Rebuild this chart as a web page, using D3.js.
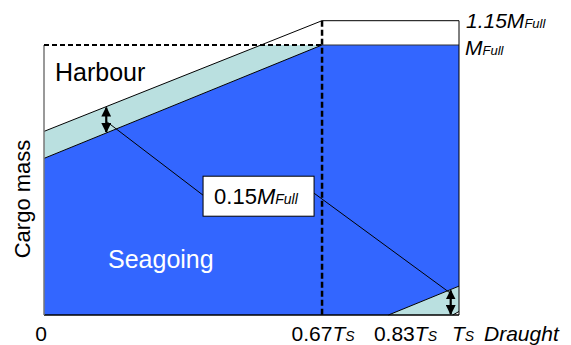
<!DOCTYPE html>
<html><head><meta charset="utf-8">
<script src="https://cdn.jsdelivr.net/npm/d3@7"></script>
<style>body{margin:0;background:#fff}svg{display:block}text{font-family:"Liberation Sans",Arial,sans-serif;fill:#000}</style>
</head><body>
<script>
// ---- data (draught in T_S units, cargo mass in M_Full units, schematic) ----
const draughtTicks = [0, 0.67, 0.83, 1];
const draughtTickNumbers = ["0", "0.67", "0.83", ""];
const draughtTickHasTs = [false, true, true, true];
const massFull = 1.0;
const massTopDrawn = 1.09;            // line labelled 1.15 M_Full
const harbourLine = [[0, 0.68], [0.67, 1.09]];
const seagoingLine = [[0, 0.58], [0.67, 1.0]];
const rightUpperLine = [[0.83, 0], [1, 0.107]];
const rightLowerLine = [[0.985, 0], [1, 0.013]];
const arrowDraughts = [0.15, 0.98];
const boxCenter = [0.517, 0.44];
const leaderEnds = [[0.152, 0.715], [0.98, 0.08]];

const W = 571, H = 345;
const x = d3.scaleLinear().domain([0, 1]).range([44, 459]);
const y = d3.scaleLinear().domain([0, 1]).range([315, 45]);
const BLUE = "#3366ff", CYAN = "#bae0e0";

const svg = d3.select("body").append("svg").attr("width", W).attr("height", H);
const defs = svg.append("defs");
defs.append("marker").attr("id", "ah").attr("viewBox", "0 0 10 10").attr("refX", 9).attr("refY", 5)
  .attr("markerWidth", 4.5).attr("markerHeight", 4.5).attr("orient", "auto-start-reverse")
  .attr("markerUnits", "strokeWidth")
  .append("path").attr("d", "M0,0L10,5L0,10Z").attr("fill", "#000");

const interp = (line, t) => {
  const [[x0, y0], [x1, y1]] = line;
  return y0 + (y1 - y0) * (t - x0) / (x1 - x0);
};
const inverse = (line, v) => {
  const [[x0, y0], [x1, y1]] = line;
  return x0 + (x1 - x0) * (v - y0) / (y1 - y0);
};
const pts = arr => arr.map(([a, b]) => [x(a), y(b)]);
const poly = d3.line();

// cyan band left (clipped at M_Full)
const hCross = inverse(harbourLine, massFull);
svg.append("path").attr("d", poly(pts([harbourLine[0], [hCross, massFull], seagoingLine[1], seagoingLine[0]])) + "Z")
  .attr("fill", CYAN);
// cyan band right
svg.append("path").attr("d", poly(pts([rightUpperLine[0], rightUpperLine[1], rightLowerLine[1], rightLowerLine[0]])) + "Z")
  .attr("fill", CYAN);
// seagoing (blue) region
svg.append("path").attr("d", poly(pts([[0, 0], seagoingLine[0], seagoingLine[1], [1, massFull], rightUpperLine[1], rightUpperLine[0]])) + "Z")
  .attr("fill", BLUE);

// outlines
const seg = (a, b, opts = {}) => svg.append("line")
  .attr("x1", x(a[0])).attr("y1", y(a[1])).attr("x2", x(b[0])).attr("y2", y(b[1]))
  .attr("stroke", opts.color || "#000").attr("stroke-width", opts.w || 1)
  .attr("stroke-dasharray", opts.dash || null);

seg(harbourLine[0], harbourLine[1]);
seg(seagoingLine[0], seagoingLine[1]);
seg(rightUpperLine[0], rightUpperLine[1]);
seg(rightLowerLine[0], rightLowerLine[1]);
seg([0.67, massTopDrawn], [1, massTopDrawn]);
seg([0.67, massFull], [1, massFull], {color: "#333"});
seg([1, massTopDrawn], [1, 0]);
seg([0, 0], [1, 0], {w: 1.5});
seg([0, 0], [0, massFull], {color: "#777", w: 1.5});
seg([0, massFull], [0.67, massFull], {w: 2, dash: "5,3"});
seg([0.67, massTopDrawn], [0.67, 0], {w: 2.5, dash: "6,3"});

// arrows
const arrowEnds = [
  [interp(harbourLine, arrowDraughts[0]), interp(seagoingLine, arrowDraughts[0])],
  [interp(rightUpperLine, arrowDraughts[1]), Math.max(0, interp(rightLowerLine, arrowDraughts[1]))]
];
arrowDraughts.forEach((d, i) => {
  svg.append("line").attr("x1", x(d)).attr("x2", x(d))
    .attr("y1", y(arrowEnds[i][0]) + 1).attr("y2", y(arrowEnds[i][1]) - 1)
    .attr("stroke", "#000").attr("stroke-width", 2.2)
    .attr("marker-start", "url(#ah)").attr("marker-end", "url(#ah)");
});

// annotation box
const boxW = 111, boxH = 40;
const bx = x(boxCenter[0]) - boxW / 2, by = y(boxCenter[1]) - boxH / 2;
svg.append("line").attr("x1", x(leaderEnds[0][0])).attr("y1", y(leaderEnds[0][1]))
  .attr("x2", bx).attr("y2", by + 19).attr("stroke", "#000");
svg.append("line").attr("x1", bx + boxW).attr("y1", by + 17)
  .attr("x2", x(leaderEnds[1][0])).attr("y2", y(leaderEnds[1][1])).attr("stroke", "#000");
svg.append("rect").attr("x", bx).attr("y", by).attr("width", boxW).attr("height", boxH)
  .attr("fill", "#fff").attr("stroke", "#000");
const bt = svg.append("text").attr("x", bx + 11).attr("y", by + 28).attr("font-size", 22);
bt.append("tspan").text("0.15");
bt.append("tspan").attr("font-style", "italic").text("M");
bt.append("tspan").attr("font-style", "italic").attr("font-size", 14).text("Full");

// region labels
svg.append("text").attr("x", 55).attr("y", 81).attr("font-size", 25).text("Harbour");
svg.append("text").attr("x", 108).attr("y", 268).attr("font-size", 25).style("fill", "#fff").text("Seagoing");
svg.append("text").attr("transform", "translate(30,199) rotate(-90)").attr("text-anchor", "middle")
  .attr("font-size", 22).text("Cargo mass");

// mass labels on right
const ml1 = svg.append("text").attr("x", 466).attr("y", 28).attr("font-size", 21).attr("font-style", "italic");
ml1.append("tspan").text("1.15M");
ml1.append("tspan").attr("font-size", 13).text("Full");
const ml2 = svg.append("text").attr("x", 465).attr("y", 55).attr("font-size", 21).attr("font-style", "italic");
ml2.append("tspan").text("M");
ml2.append("tspan").attr("font-size", 13).text("Full");

// draught tick labels
const tickDx = [-3, 1, 17, 4];
draughtTicks.forEach((d, i) => {
  const t = svg.append("text").attr("x", x(d) + tickDx[i]).attr("y", 341)
    .attr("text-anchor", "middle").attr("font-size", 21);
  if (draughtTickNumbers[i]) t.append("tspan").text(draughtTickNumbers[i]);
  if (draughtTickHasTs[i]) {
    t.append("tspan").attr("font-style", "italic").text("T");
    t.append("tspan").attr("font-style", "italic").attr("font-size", 14).text("S");
  }
});
svg.append("text").attr("x", 484).attr("y", 341).attr("font-size", 21).attr("font-style", "italic").text("Draught");
</script>
</body></html>
